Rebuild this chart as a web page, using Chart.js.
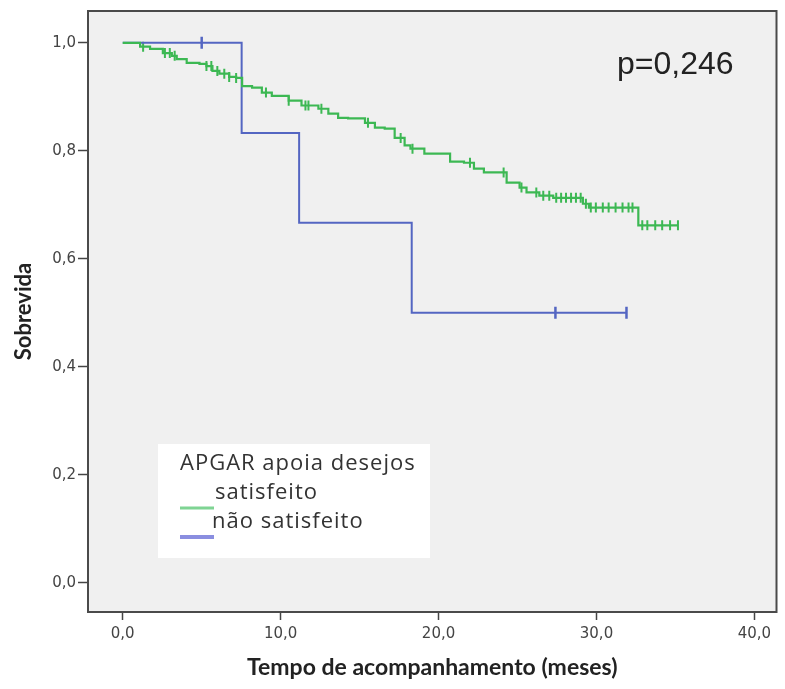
<!DOCTYPE html>
<html>
<head>
<meta charset="utf-8">
<script src="https://cdn.jsdelivr.net/npm/chart.js@4"></script>
<style>
  html, body { margin: 0; padding: 0; background: #fff; }
  #wrap { width: 785px; height: 689px; }
</style>
</head>
<body>
<div id="wrap"><canvas id="km" width="785" height="689"></canvas></div>
<script>
// data ----------------------------------------------------------------
const xTicks = [0, 10, 20, 30, 40];
const yTicks = [0, 0.2, 0.4, 0.6, 0.8, 1.0];

const groupLabels = ["satisfeito", "não satisfeito"];
const legendTitle = "APGAR apoia desejos";
const pValueText = "p=0,246";

// satisfeito: step times (months) and survival after each step
const greenTimes = [0, 1.1, 1.73, 2.54, 3.11, 3.42, 4.05, 4.86, 5.3, 5.68, 6.12, 6.74, 7.18, 7.56, 8.19, 8.81, 9.44, 10.51, 11.32, 12.39, 13.02, 13.64, 14.27, 15.34, 15.97, 16.59, 17.22, 17.85, 18.22, 19.1, 20.73, 21.61, 22.24, 22.87, 24.31, 25.13, 25.57, 26.38, 27.26, 29.14, 29.52, 32.65, 35.16];
const greenSurv = [1.0, 0.993, 0.989, 0.981, 0.976, 0.97, 0.963, 0.961, 0.957, 0.948, 0.943, 0.937, 0.935, 0.92, 0.917, 0.908, 0.902, 0.893, 0.884, 0.878, 0.869, 0.861, 0.86, 0.852, 0.843, 0.841, 0.824, 0.81, 0.804, 0.795, 0.78, 0.778, 0.767, 0.76, 0.741, 0.732, 0.723, 0.717, 0.713, 0.702, 0.695, 0.662, 0.662];
const greenCensored = [1.29, 2.67, 2.98, 3.29, 5.3, 5.61, 5.99, 6.43, 6.74, 7.18, 9.07, 10.51, 11.57, 11.76, 12.58, 15.53, 17.6, 18.35, 21.99, 24.12, 25.25, 26.19, 26.63, 27.01, 27.45, 27.76, 28.07, 28.39, 28.7, 29.0, 29.33, 29.64, 29.96, 30.4, 30.77, 31.21, 31.65, 32.03, 32.28, 32.9, 33.22, 33.72, 34.16, 34.66, 35.16];

// não satisfeito
const blueTimes = [0, 7.53, 11.17, 18.3, 31.9];
const blueSurv = [1.0, 0.833, 0.667, 0.5, 0.5];
const blueCensored = [5.0, 27.4, 31.9];

const greenColor = "#3cb853";
const blueColor = "#5466c2";
const greenLegend = "#7fd493";
const blueLegend = "#8a8ee0";

// helpers ---------------------------------------------------------------
function survAt(times, surv, t) {
  let s = surv[0];
  for (let i = 0; i < times.length; i++) {
    if (times[i] <= t + 1e-9) s = surv[i];
  }
  return s;
}
const toPts = (times, surv) => times.map((t, i) => ({ x: t, y: surv[i] }));
const censorPts = (cens, times, surv) => cens.map((t) => ({ x: t, y: survAt(times, surv, t) }));
const fmt = (v) => v.toFixed(1).replace(".", ",");

// plot background, frame, legend box and p value --------------------------
const decor = {
  id: "decor",
  beforeDatasetsDraw(chart) {
    const { ctx, chartArea: a } = chart;
    ctx.save();
    ctx.fillStyle = "#f0f0f0";
    ctx.fillRect(a.left, a.top, a.right - a.left, a.bottom - a.top);

    // legend box
    const lx = a.left + 70, ly = a.top + 433;
    ctx.fillStyle = "#ffffff";
    ctx.fillRect(lx, ly, 272, 114);
    ctx.fillStyle = "#333";
    ctx.font = "22px 'Open Sans'";
    ctx.letterSpacing = "1px";
    ctx.textBaseline = "middle";
    ctx.textAlign = "left";
    ctx.fillText(legendTitle, lx + 22, ly + 20);
    ctx.fillText(groupLabels[0], lx + 57, ly + 49);
    ctx.fillText(groupLabels[1], lx + 54, ly + 78);
    ctx.letterSpacing = "0px";
    ctx.strokeStyle = greenLegend;
    ctx.lineWidth = 3;
    ctx.beginPath();
    ctx.moveTo(lx + 22, ly + 64);
    ctx.lineTo(lx + 56, ly + 64);
    ctx.stroke();
    ctx.strokeStyle = blueLegend;
    ctx.lineWidth = 4;
    ctx.beginPath();
    ctx.moveTo(lx + 22, ly + 93);
    ctx.lineTo(lx + 56, ly + 93);
    ctx.stroke();

    // p value
    ctx.fillStyle = "#222";
    ctx.font = "32px 'Liberation Sans'";
    ctx.fillText(pValueText, a.left + 529, a.top + 54);
    ctx.restore();
  },
  afterDraw(chart) {
    const { ctx, chartArea: a } = chart;
    ctx.save();
    ctx.strokeStyle = "#4a4a4a";
    ctx.lineWidth = 2;
    ctx.strokeRect(a.left, a.top, a.right - a.left, a.bottom - a.top);
    ctx.restore();
  },
};

new Chart(document.getElementById("km"), {
  type: "line",
  data: {
    datasets: [
      {
        label: groupLabels[0],
        data: toPts(greenTimes, greenSurv),
        borderColor: greenColor,
        borderWidth: 2.2,
        stepped: "before",
        pointRadius: 0,
      },
      {
        label: groupLabels[1],
        data: toPts(blueTimes, blueSurv),
        borderColor: blueColor,
        borderWidth: 2,
        stepped: "before",
        pointRadius: 0,
      },
      {
        label: "censor1",
        data: censorPts(greenCensored, greenTimes, greenSurv),
        showLine: false,
        pointStyle: "line",
        rotation: 90,
        pointRadius: 5,
        borderColor: greenColor,
        pointBorderWidth: 2,
      },
      {
        label: "censor2",
        data: censorPts(blueCensored, blueTimes, blueSurv),
        showLine: false,
        pointStyle: "line",
        rotation: 90,
        pointRadius: 6,
        borderColor: blueColor,
        pointBorderWidth: 2.5,
      },
    ],
  },
  options: {
    responsive: false,
    animation: false,
    layout: { padding: { top: 10, right: 2, bottom: 0, left: 0 } },
    plugins: { legend: { display: false }, tooltip: { enabled: false } },
    scales: {
      x: {
        type: "linear",
        min: -2.2,
        max: 41.4,
        afterFit: (s) => { s.height = 77; },
        afterBuildTicks: (s) => { s.ticks = xTicks.map((v) => ({ value: v })); },
        grid: { drawOnChartArea: false, color: "#444", tickLength: 8, tickWidth: 1.5 },
        border: { display: false },
        ticks: {
          padding: 5,
          color: "#444",
          font: { family: "'DejaVu Sans'", size: 15 },
          callback: (v) => fmt(v),
          maxRotation: 0,
        },
        title: {
          display: true,
          text: "Tempo de acompanhamento (meses)",
          color: "#222",
          font: { family: "Lato", size: 23, weight: "bold" },
          padding: { bottom: 8 },
        },
      },
      y: {
        min: -0.054,
        max: 1.059,
        afterFit: (s) => { s.width = 88; },
        afterBuildTicks: (s) => { s.ticks = yTicks.map((v) => ({ value: v })); },
        grid: { drawOnChartArea: false, color: "#444", tickLength: 10, tickWidth: 1.5 },
        border: { display: false },
        ticks: {
          padding: 2,
          color: "#444",
          font: { family: "'DejaVu Sans'", size: 15 },
          callback: (v) => fmt(v),
        },
        title: {
          display: true,
          text: "Sobrevida",
          color: "#222",
          font: { family: "Lato", size: 22, weight: "bold" },
          padding: { top: 11 },
        },
      },
    },
  },
  plugins: [decor],
});
</script>
</body>
</html>
